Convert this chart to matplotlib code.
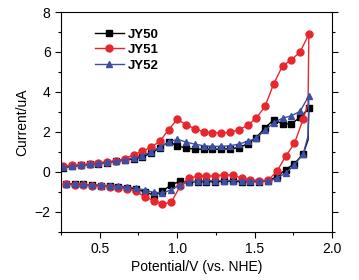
import numpy as np
import matplotlib
matplotlib.use("Agg")
import matplotlib.pyplot as plt
from matplotlib.ticker import MultipleLocator

plt.rcParams['font.family'] = ['Liberation Sans', 'DejaVu Sans']

# forward scan potentials (V) and reverse scan potentials
v_fwd = [0.265, 0.322, 0.378, 0.435, 0.491, 0.548, 0.605, 0.661, 0.718, 0.774,
         0.831, 0.888, 0.944, 1.001, 1.057, 1.114, 1.171, 1.227, 1.284, 1.340,
         1.397, 1.454, 1.510, 1.567, 1.623, 1.680, 1.737, 1.793, 1.850]
v_rev = [1.845, 1.814, 1.757, 1.700, 1.644, 1.587, 1.530, 1.473, 1.416, 1.360,
         1.303, 1.246, 1.189, 1.132, 1.076, 1.019, 0.962, 0.905, 0.848, 0.792,
         0.735, 0.678, 0.621, 0.564, 0.508, 0.451, 0.394, 0.337, 0.280]

# currents (uA)
jy50_fwd = [0.20, 0.27, 0.32, 0.37, 0.41, 0.46, 0.52, 0.58, 0.65, 0.75,
            0.92, 1.20, 1.50, 1.30, 1.18, 1.13, 1.12, 1.12, 1.13, 1.15,
            1.20, 1.40, 1.70, 2.20, 2.60, 2.40, 2.40, 2.72, 3.18]
jy50_rev = [1.60, 0.90, 0.40, 0.10, -0.25, -0.45, -0.50, -0.50, -0.50, -0.48,
            -0.48, -0.50, -0.50, -0.50, -0.52, -0.48, -0.65, -0.98, -1.18, -1.00,
            -0.88, -0.80, -0.76, -0.72, -0.70, -0.67, -0.64, -0.62, -0.60]

jy51_fwd = [0.27, 0.32, 0.36, 0.40, 0.44, 0.49, 0.55, 0.65, 0.85, 1.02,
            1.23, 1.52, 2.10, 2.63, 2.35, 2.15, 2.00, 1.95, 1.95, 1.97,
            2.10, 2.32, 2.68, 3.27, 4.40, 5.30, 5.60, 6.00, 6.88]
jy51_rev = [3.40, 2.65, 1.42, 0.77, 0.02, -0.43, -0.45, -0.40, -0.32, -0.18,
            -0.15, -0.20, -0.23, -0.23, -0.32, -0.73, -1.53, -1.62, -1.45, -1.27,
            -0.98, -0.85, -0.80, -0.75, -0.72, -0.70, -0.68, -0.66, -0.63]

jy52_fwd = [0.22, 0.28, 0.32, 0.37, 0.42, 0.47, 0.53, 0.60, 0.68, 0.80,
            1.00, 1.23, 1.48, 1.63, 1.48, 1.38, 1.30, 1.27, 1.27, 1.30,
            1.38, 1.52, 1.68, 2.07, 2.45, 2.68, 2.80, 3.02, 3.80]
jy52_rev = [1.80, 0.90, 0.35, -0.07, -0.32, -0.48, -0.48, -0.47, -0.45, -0.45,
            -0.45, -0.45, -0.45, -0.47, -0.50, -0.65, -0.90, -1.08, -1.03, -0.93,
            -0.82, -0.76, -0.72, -0.70, -0.68, -0.66, -0.64, -0.62, -0.60]

labels = ['JY50', 'JY51', 'JY52']
colors = ['black', '#e8262d', '#3d4fa3']
markers = ['s', 'o', '^']

fig = plt.figure(figsize=(3.59, 2.80), dpi=100)
ax = fig.add_axes([0.170, 0.173, 0.755, 0.784])

series = [(jy50_fwd, jy50_rev), (jy51_fwd, jy51_rev), (jy52_fwd, jy52_rev)]
for (fwd, rev), lab, col, mk in zip(series, labels, colors, markers):
    x = v_fwd + v_rev
    y = fwd + rev
    n = len(v_fwd)
    # skip the marker on the bend point of the return branch
    marks = [i for i in range(len(x)) if i != n]
    ax.plot(x, y, color=col, lw=1.0, marker=mk, ms=5, markevery=marks, label=lab)

ax.set_xlim(0.25, 2.0)
ax.set_ylim(-3, 8)
ax.xaxis.set_major_locator(MultipleLocator(0.5))
ax.xaxis.set_minor_locator(MultipleLocator(0.25))
ax.yaxis.set_major_locator(MultipleLocator(2))
ax.yaxis.set_minor_locator(MultipleLocator(1))
ax.tick_params(which='both', direction='out', labelsize=10, right=True, top=False)
ax.tick_params(which='major', length=4, width=0.8)
ax.tick_params(which='minor', length=2.5, width=0.8)

ax.set_xlabel('Potential/V (vs. NHE)', fontsize=10, labelpad=3)
ax.set_ylabel('Current/uA', fontsize=10, labelpad=4)

leg = ax.legend(loc='upper left', bbox_to_anchor=(0.08, 0.98), frameon=False,
                prop={'weight': 'bold', 'size': 9.5}, handlelength=2.2,
                handletextpad=0.3, labelspacing=0.25)

fig.savefig('out.png', dpi=100)
